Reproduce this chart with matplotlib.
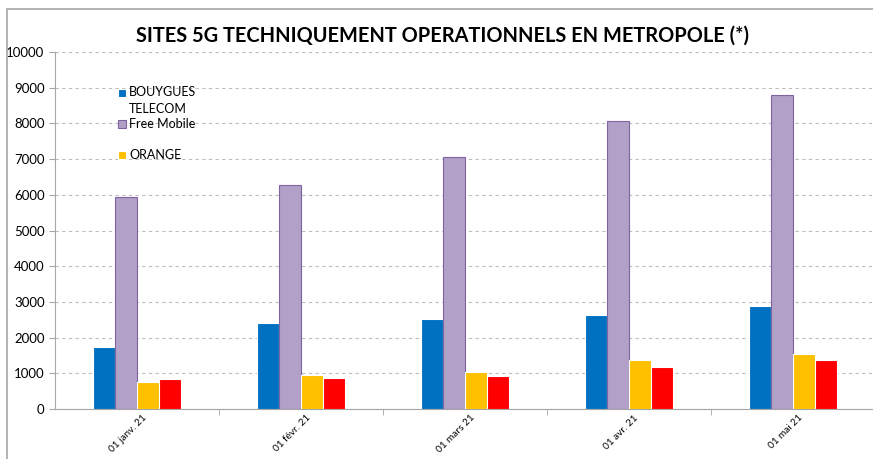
import numpy as np
import matplotlib
matplotlib.use('Agg')
import matplotlib.pyplot as plt
from matplotlib.patches import Rectangle

# Data
months = ['01 janv. 21', '01 févr. 21', '01 mars 21', '01 avr. 21', '01 mai 21']
bouygues = [1745, 2410, 2510, 2620, 2880]
free = [5950, 6280, 7050, 8080, 8800]
orange = [760, 955, 1050, 1375, 1535]
sfr = [845, 860, 925, 1170, 1385]

plt.rcParams['font.family'] = ['Lato', 'DejaVu Sans']

fig = plt.figure(figsize=(8.73, 4.59), dpi=100)
ax = fig.add_axes([55 / 873, 1 - 409 / 459, 820 / 873, 357 / 459])

# outer chart frame
fig.patches.append(Rectangle((7 / 873, -0.05), 1.0, (459 - 9) / 459 + 0.05,
                             transform=fig.transFigure, fill=False,
                             edgecolor='#a6a6a6', linewidth=1.2))

x = np.arange(len(months))
w = 0.134
series = [(bouygues, '#0070C0', 'white'),
          (free, '#B1A0C7', '#8064A2'),
          (orange, '#FFC000', 'white'),
          (sfr, '#FF0000', 'white')]
for i, (vals, col, ec) in enumerate(series):
    ax.bar(x + (i - 1.5) * w, vals, width=w, color=col, edgecolor=ec,
           linewidth=0.8, zorder=3)

ax.set_xlim(-0.5, 4.5)
ax.set_ylim(0, 10000)
ax.set_yticks(range(0, 10001, 1000))
ax.yaxis.grid(True, linestyle=(0, (3, 3)), color='#bdbdbd', linewidth=0.8)
ax.set_axisbelow(True)
for s in ['top', 'right']:
    ax.spines[s].set_visible(False)
ax.spines['left'].set_color('#a6a6a6')
ax.spines['bottom'].set_color('#a6a6a6')
ax.tick_params(axis='y', length=4, color='#a6a6a6', labelsize=9.5)
ax.set_xticks(x + 0.03)
ax.set_xticklabels(months, rotation=45, ha='right', rotation_mode='anchor',
                   fontsize=7.2)
ax.tick_params(axis='x', length=0, pad=3)
ax.set_xticks(np.arange(0.5, 4.5, 1), minor=True)
ax.tick_params(axis='x', which='minor', length=4, color='#a6a6a6')

fig.text(0.507, 0.922, 'SITES 5G TECHNIQUEMENT OPERATIONNELS EN METROPOLE (*)',
         ha='center', va='center', fontsize=14.4, fontweight='bold')

# legend drawn as in the source (three entries, no label for red)
leg_labels = ['BOUYGUES\nTELECOM', 'Free Mobile', 'ORANGE']
leg_colors = [('#0070C0', 'white'), ('#B1A0C7', '#8064A2'), ('#FFC000', 'white')]
leg_ypix = [93, 124, 155]
for label, (col, ec), ypix in zip(leg_labels, leg_colors, leg_ypix):
    fig.patches.append(Rectangle((118 / 873, 1 - (ypix + 4) / 459), 8 / 873, 8 / 459,
                                 transform=fig.transFigure, facecolor=col,
                                 edgecolor=ec, linewidth=0.8))
    if '\n' in label:
        fig.text(129 / 873, 1 - 86 / 459, label, ha='left', va='top',
                 fontsize=9, linespacing=1.5)
    else:
        fig.text(129 / 873, 1 - ypix / 459, label, ha='left', va='center',
                 fontsize=9)

fig.savefig('out.png', dpi=100)
